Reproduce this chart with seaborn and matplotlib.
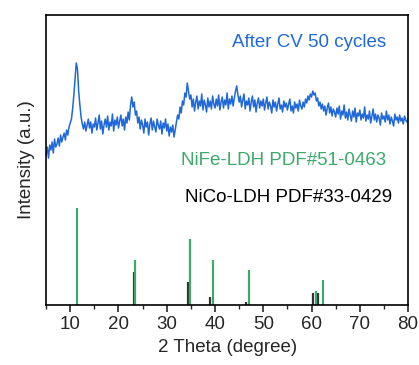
import numpy as np
import matplotlib; matplotlib.use("Agg")
import matplotlib.pyplot as plt
import seaborn as sns
import pandas as pd
from matplotlib.ticker import MultipleLocator

two_theta = np.arange(5.0, 80.001, 0.25)
intensity = [
    150, 158, 147, 160, 155, 163, 152, 166, 158, 161, 167, 159, 170, 163, 168, 172, 165, 175, 170, 178,
    182, 186, 196, 210, 226, 242, 236, 214, 200, 188, 181, 176, 183, 174, 180, 186, 177, 183, 172, 181,
    178, 187, 175, 182, 190, 176, 184, 171, 180, 186, 178, 189, 175, 183, 179, 191, 174, 185, 180, 188,
    177, 184, 190, 179, 186, 175, 188, 182, 193, 185, 200, 208, 198, 203, 190, 194, 182, 188, 176, 185,
    180, 172, 186, 178, 183, 170, 181, 187, 175, 184, 178, 173, 186, 180, 176, 184, 171, 182, 177, 186,
    174, 181, 169, 178, 173, 180, 168, 175, 183, 190, 186, 198, 192, 204, 200, 212, 208, 222, 214, 206,
    210, 198, 206, 194, 203, 209, 196, 204, 199, 211, 195, 205, 200, 193, 207, 198, 204, 196, 209, 201,
    197, 206, 199, 210, 195, 203, 208, 197, 205, 200, 212, 196, 206, 201, 209, 199, 207, 214, 219, 210,
    203, 209, 198, 205, 211, 196, 204, 200, 207, 194, 203, 209, 198, 205, 193, 202, 207, 197, 204, 199,
    206, 195, 202, 208, 196, 203, 199, 192, 205, 198, 203, 194, 201, 207, 196, 200, 193, 204, 198, 202,
    195, 201, 206, 194, 199, 192, 203, 197, 201, 194, 205, 199, 196, 203, 198, 206, 202, 209, 205, 211,
    208, 214, 210, 212, 204, 207, 199, 203, 196, 201, 194, 199, 190, 197, 202, 192, 198, 189, 196, 193,
    188, 197, 191, 199, 186, 194, 190, 200, 187, 193, 185, 196, 190, 184, 194, 188, 197, 183, 192, 189,
    195, 185, 191, 187, 198, 184, 190, 186, 194, 182, 189, 196, 185, 191, 183, 190, 187, 180, 192, 186,
    189, 183, 194, 185, 190, 181, 188, 184, 179, 191, 185, 188, 182, 190, 184, 187, 181, 189, 185, 183,
    186,
]

# reference cards (2theta, relative intensity)
nife_pos = [11.5, 23.4, 34.9, 39.5, 47.0, 60.9, 62.4]
nife_int = [100, 46, 68, 46, 36, 15, 26]
nico_pos = [23.3, 34.5, 39.0, 46.4, 60.2, 61.3]
nico_int = [34, 24, 8, 3, 12, 12]

BLUE, GREEN, BLACK = "#2068d8", "#3daa6b", "#333333"

sns.set_style("white")
plt.rcParams["font.family"] = ["Liberation Sans", "DejaVu Sans"]

fig = plt.figure(figsize=(4.19, 3.65), dpi=100)
ax = fig.add_axes([0.110, 0.164, 0.864, 0.795])

df = pd.DataFrame({"x": two_theta, "y": intensity})
sns.lineplot(data=df, x="x", y="y", ax=ax, color=BLUE, lw=1.1)

scale = 0.97
ax.vlines(nico_pos, 0, np.array(nico_int) * scale, color=BLACK, lw=1.6)
ax.vlines(nife_pos, 0, np.array(nife_int) * scale, color=GREEN, lw=1.6)

fs = 13.5
ax.text(0.94, 0.905, "After CV 50 cycles", transform=ax.transAxes,
        ha="right", va="center", color=BLUE, fontsize=fs)
ax.text(0.94, 0.50, "NiFe-LDH PDF#51-0463", transform=ax.transAxes,
        ha="right", va="center", color=GREEN, fontsize=fs)
ax.text(0.955, 0.372, "NiCo-LDH PDF#33-0429", transform=ax.transAxes,
        ha="right", va="center", color="black", fontsize=fs)

ax.set_xlim(5, 80)
ax.set_ylim(0, 290)
ax.xaxis.set_major_locator(MultipleLocator(10))
ax.xaxis.set_minor_locator(MultipleLocator(5))
ax.tick_params(axis="x", which="major", direction="out", length=5, width=1.2,
               labelsize=fs, bottom=True, pad=3)
ax.tick_params(axis="x", which="minor", direction="out", length=3, width=1.0,
               bottom=True)
ax.set_yticks([])
ax.set_xlabel("2 Theta (degree)", fontsize=fs, labelpad=4)
ax.set_ylabel("Intensity (a.u.)", fontsize=fs, labelpad=8)
for s in ax.spines.values():
    s.set_visible(True)
    s.set_linewidth(1.2)
    s.set_color("black")

fig.savefig("out.png", dpi=100)
plt.close(fig)
